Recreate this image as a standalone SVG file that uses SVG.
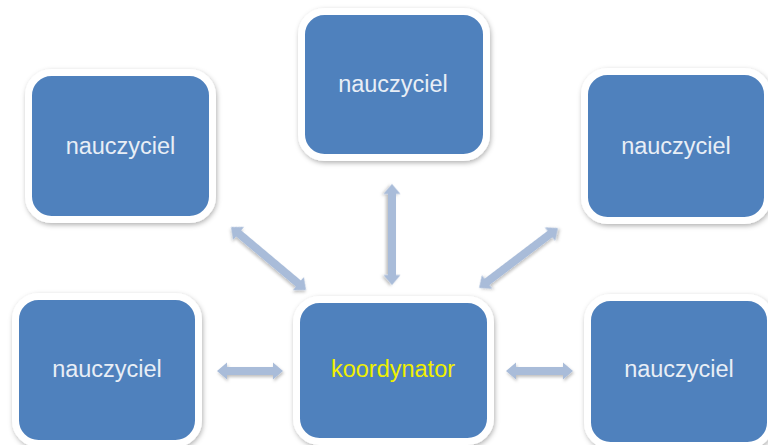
<svg xmlns="http://www.w3.org/2000/svg" width="768" height="445" viewBox="0 0 768 445">
  <defs>
    <filter id="shadow" x="-20%" y="-20%" width="140%" height="140%">
      <feDropShadow dx="1" dy="2" stdDeviation="2.5" flood-color="#000" flood-opacity="0.3"/>
    </filter>
    <filter id="ashadow" x="-20%" y="-40%" width="140%" height="180%">
      <feDropShadow dx="1" dy="2" stdDeviation="1.5" flood-color="#000" flood-opacity="0.25"/>
    </filter>
  </defs>
  <style>
    .box { fill: #4F81BD; stroke: #FFFFFF; stroke-width: 7; filter: url(#shadow); }
    .lbl { font-family: "Liberation Sans", Arial, sans-serif; font-size: 23.5px; fill: #E8EEF6; text-anchor: middle; }
    .coord { fill: #F0F000; }
    .arrow { fill: #A9BCD9; filter: url(#ashadow); }
  </style>
  <rect width="768" height="445" fill="#FFFFFF"/>

  <g id="connectors">
    <polygon class="arrow" transform="translate(250,371)" points="-33,0 -23,-8.5 -23,-4 23,-4 23,-8.5 33,0 23,8.5 23,4 -23,4 -23,8.5"/>
    <polygon class="arrow" transform="translate(539.5,371)" points="-33.5,0 -23.5,-8.5 -23.5,-4 23.5,-4 23.5,-8.5 33.5,0 23.5,8.5 23.5,4 -23.5,4 -23.5,8.5"/>
    <polygon class="arrow" transform="translate(392,234.5) rotate(90)" points="-50.5,0 -40.5,-8.5 -40.5,-4 40.5,-4 40.5,-8.5 50.5,0 40.5,8.5 40.5,4 -40.5,4 -40.5,8.5"/>
    <polygon class="arrow" transform="translate(268.5,258.5) rotate(40)" points="-49,0 -39,-8.5 -39,-4 39,-4 39,-8.5 49,0 39,8.5 39,4 -39,4 -39,8.5"/>
    <polygon class="arrow" transform="translate(518.5,258) rotate(-37.2)" points="-49.5,0 -39.5,-8.5 -39.5,-4 39.5,-4 39.5,-8.5 49.5,0 39.5,8.5 39.5,4 -39.5,4 -39.5,8.5"/>
  </g>

  <g id="node-top-left">
    <rect class="box" x="28.5" y="72.5" width="184" height="147" rx="23"/>
    <text class="lbl" x="120.5" y="154">nauczyciel</text>
  </g>
  <g id="node-top-center">
    <rect class="box" x="301.5" y="11.5" width="185" height="146" rx="23"/>
    <text class="lbl" x="393" y="92">nauczyciel</text>
  </g>
  <g id="node-top-right">
    <rect class="box" x="584.5" y="71.5" width="183" height="149" rx="23"/>
    <text class="lbl" x="676" y="154">nauczyciel</text>
  </g>
  <g id="node-bottom-left">
    <rect class="box" x="15.5" y="296.5" width="183" height="147" rx="23"/>
    <text class="lbl" x="107" y="377">nauczyciel</text>
  </g>
  <g id="node-center">
    <rect class="box" x="296.5" y="299.5" width="194" height="142" rx="23"/>
    <text class="lbl coord" x="393" y="377">koordynator</text>
  </g>
  <g id="node-bottom-right">
    <rect class="box" x="587.5" y="297.5" width="183" height="148" rx="23"/>
    <text class="lbl" x="679" y="377">nauczyciel</text>
  </g>
</svg>
